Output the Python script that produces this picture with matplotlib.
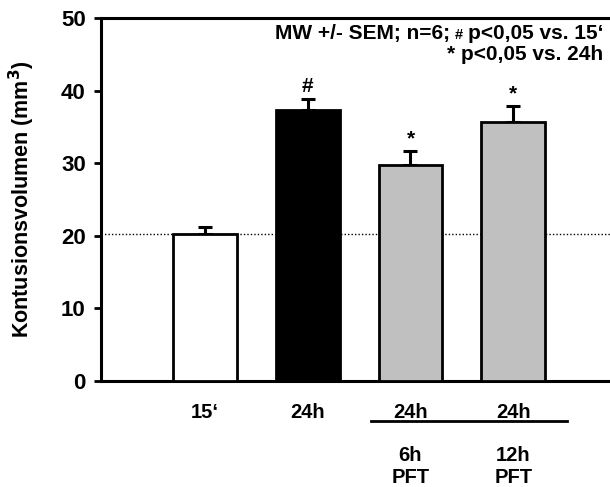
import matplotlib
matplotlib.use("Agg")
import matplotlib.pyplot as plt
from matplotlib.transforms import blended_transform_factory

plt.rcParams['font.family'] = ['Liberation Sans', 'DejaVu Sans']
plt.rcParams['font.weight'] = 'bold'

categories = ["15‘", "24h", "24h", "24h"]
sub_labels = ["", "", "6h\nPFT", "12h\nPFT"]
means = [20.3, 37.3, 29.8, 35.7]
sems = [0.9, 1.5, 1.9, 2.2]
colors = ["white", "black", "#c0c0c0", "#c0c0c0"]
marks = ["", "#", "*", "*"]
baseline = 20.2
yticks = [0, 10, 20, 30, 40, 50]

fig = plt.figure(figsize=(6.10, 4.87), dpi=100)
ax = fig.add_axes([101/610, 1-381/487, 1.01-101/610, (381-18)/487])

x = list(range(len(means)))
ax.bar(x, means, width=0.62, color=colors, edgecolor="black", linewidth=2.0, zorder=3)
ax.errorbar(x, means, yerr=[[0]*len(sems), sems], fmt="none", ecolor="black",
            elinewidth=2.2, capsize=5, capthick=2.2, zorder=2)
ax.axhline(baseline, color="black", linestyle=(0, (1, 1.5)), linewidth=1.0, zorder=1)

for xi, m, s, mk in zip(x, means, sems, marks):
    if mk:
        ax.text(xi, m + s + 0.4, mk, ha="center", va="bottom", fontsize=15, fontweight="bold")

ax.set_xlim(-1.01, 4.0)
ax.set_ylim(0, 50)
ax.set_yticks(yticks)
ax.set_xticks(x)
ax.set_xticklabels(categories, fontsize=14.5, fontweight="bold")
ax.tick_params(axis="x", length=0, pad=16)
ax.tick_params(axis="y", length=5, width=2, direction="out", labelsize=16, pad=6)
for lab in ax.get_yticklabels():
    lab.set_fontweight("bold")
for sp in ax.spines.values():
    sp.set_linewidth(2.2)

ax.set_ylabel("Kontusionsvolumen (mm$\\mathbf{^3}$)", fontsize=15.5, fontweight="bold", labelpad=17)

trans = blended_transform_factory(ax.transData, ax.transAxes)
ax.plot([1.62, 3.52], [-0.11, -0.11], transform=trans, color="black", linewidth=2.0, clip_on=False)
for xi, sl in zip(x, sub_labels):
    if sl:
        ax.text(xi, -0.18, sl, transform=trans, ha="center", va="top", fontsize=14.5,
                fontweight="bold", linespacing=1.2)

y1 = 1 - 33/487
t1 = fig.text(603/610, y1, "p<0,05 vs. 15‘", ha="right", va="center", fontsize=15, fontweight="bold")
fig.canvas.draw()
r = fig.canvas.get_renderer()
bb = t1.get_window_extent(r)
t2 = fig.text((bb.x0 - 5)/610, 1 - 35/487, "#", ha="right", va="center", fontsize=10.5, fontweight="bold")
bb2 = t2.get_window_extent(r)
fig.text((bb2.x0 - 4)/610, y1, "MW +/- SEM; n=6;", ha="right", va="center", fontsize=15, fontweight="bold")
fig.text(603/610, 1 - 54/487, "* p<0,05 vs. 24h", ha="right", va="center", fontsize=15, fontweight="bold")

fig.savefig("out.png", dpi=100)
